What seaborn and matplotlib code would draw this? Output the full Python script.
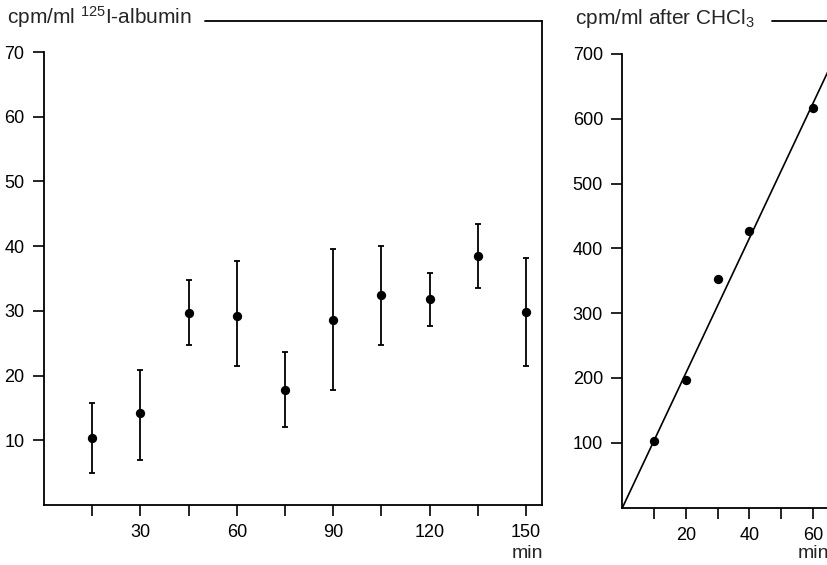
import numpy as np
import matplotlib
matplotlib.use("Agg")
import matplotlib.pyplot as plt
import seaborn as sns
from matplotlib.lines import Line2D

# left panel: 125I-albumin in plasma, mean with range
alb_time = [15, 30, 45, 60, 75, 90, 105, 120, 135, 150]
alb_cpm = [10.4, 14.2, 29.6, 29.2, 17.7, 28.6, 32.4, 31.8, 38.5, 29.8]
alb_low = [5.0, 7.0, 24.8, 21.5, 12.0, 17.8, 24.7, 27.6, 33.5, 21.5]
alb_high = [15.8, 20.9, 34.7, 37.7, 23.7, 39.6, 40.0, 35.9, 43.5, 38.2]

# right panel: after CHCl3 extraction
chcl_time = [10, 20, 30, 40, 60]
chcl_cpm = [103, 196, 352, 427, 617]

W, H = 828, 565
FS = 13

sns.set_theme(style="white")
plt.rcParams["font.family"] = ["Liberation Sans", "DejaVu Sans"]
plt.rcParams["mathtext.fontset"] = "custom"
plt.rcParams["mathtext.rm"] = "Liberation Sans"
plt.rcParams["mathtext.it"] = "Liberation Sans"

fig = plt.figure(figsize=(W / 100, H / 100), dpi=100)
fig.patch.set_facecolor("white")


def px_axes(x0, x1, y_top, y_bot):
    return fig.add_axes([x0 / W, 1 - y_bot / H, (x1 - x0) / W, (y_bot - y_top) / H])


def style_axes(ax):
    ax.set_facecolor("white")
    for s in ["left", "bottom", "right"]:
        ax.spines[s].set_color("black")
        ax.spines[s].set_linewidth(1.3)
    ax.spines["top"].set_visible(False)
    ax.tick_params(axis="both", which="both", direction="out", length=8, width=1.2,
                   color="black", labelsize=FS, labelcolor="black", pad=6)
    ax.tick_params(axis="x", which="both", bottom=True)
    ax.tick_params(axis="y", which="both", left=True)
    ax.grid(False)
    ax.set_xlabel("")
    ax.set_ylabel("")


# ---- left panel ----
ax1 = px_axes(44, 542, 21, 505)
yerr = [np.array(alb_cpm) - np.array(alb_low), np.array(alb_high) - np.array(alb_cpm)]
ax1.errorbar(alb_time, alb_cpm, yerr=yerr, fmt="none", ecolor="black",
             elinewidth=1.3, capsize=2.5, capthick=1.3)
sns.scatterplot(x=alb_time, y=alb_cpm, ax=ax1, color="black", s=45,
                edgecolor="black", linewidth=0, zorder=3)
ax1.set_xlim(0, 155)
ax1.set_ylim(0, 74.8)
ax1.set_xticks([30, 60, 90, 120, 150])
ax1.set_xticks([15, 45, 75, 105, 135], minor=True)
ax1.set_yticks([10, 20, 30, 40, 50, 60, 70])
style_axes(ax1)
ax1.spines["left"].set_bounds(0, 70)

# ---- right panel ----
ax2 = px_axes(622.5, 828, 21, 507.5)
slope = np.polyfit(chcl_time, chcl_cpm, 1)[0]
fit_x = np.array([0, 66])
sns.lineplot(x=fit_x, y=slope * fit_x, ax=ax2, color="black", linewidth=1.2)
sns.scatterplot(x=chcl_time, y=chcl_cpm, ax=ax2, color="black", s=45,
                edgecolor="black", linewidth=0, zorder=3)
ax2.set_xlim(0, 64.8)
ax2.set_ylim(0, 750.8)
ax2.set_xticks([20, 40, 60])
ax2.set_xticks([10, 30, 50], minor=True)
ax2.set_yticks([100, 200, 300, 400, 500, 600, 700])
style_axes(ax2)
ax2.spines["right"].set_visible(False)
ax2.spines["left"].set_bounds(0, 700)

# ---- titles with the frame line running on to the right ----
fig.text(7 / W, 1 - 24 / H, r"cpm/ml $^{125}$I-albumin", fontsize=15, ha="left", va="baseline")
fig.text(575 / W, 1 - 24 / H, r"cpm/ml after CHCl$_3$", fontsize=15, ha="left", va="baseline")
for x0, x1 in [(205, 542), (772, 828)]:
    fig.add_artist(Line2D([x0 / W, x1 / W], [1 - 21 / H, 1 - 21 / H],
                          transform=fig.transFigure, color="black", linewidth=1.3))

fig.text(527 / W, 1 - 553 / H, "min", fontsize=14, ha="center", va="center")
fig.text(813 / W, 1 - 553 / H, "min", fontsize=14, ha="center", va="center")

fig.savefig("out.png", dpi=100, facecolor="white")
